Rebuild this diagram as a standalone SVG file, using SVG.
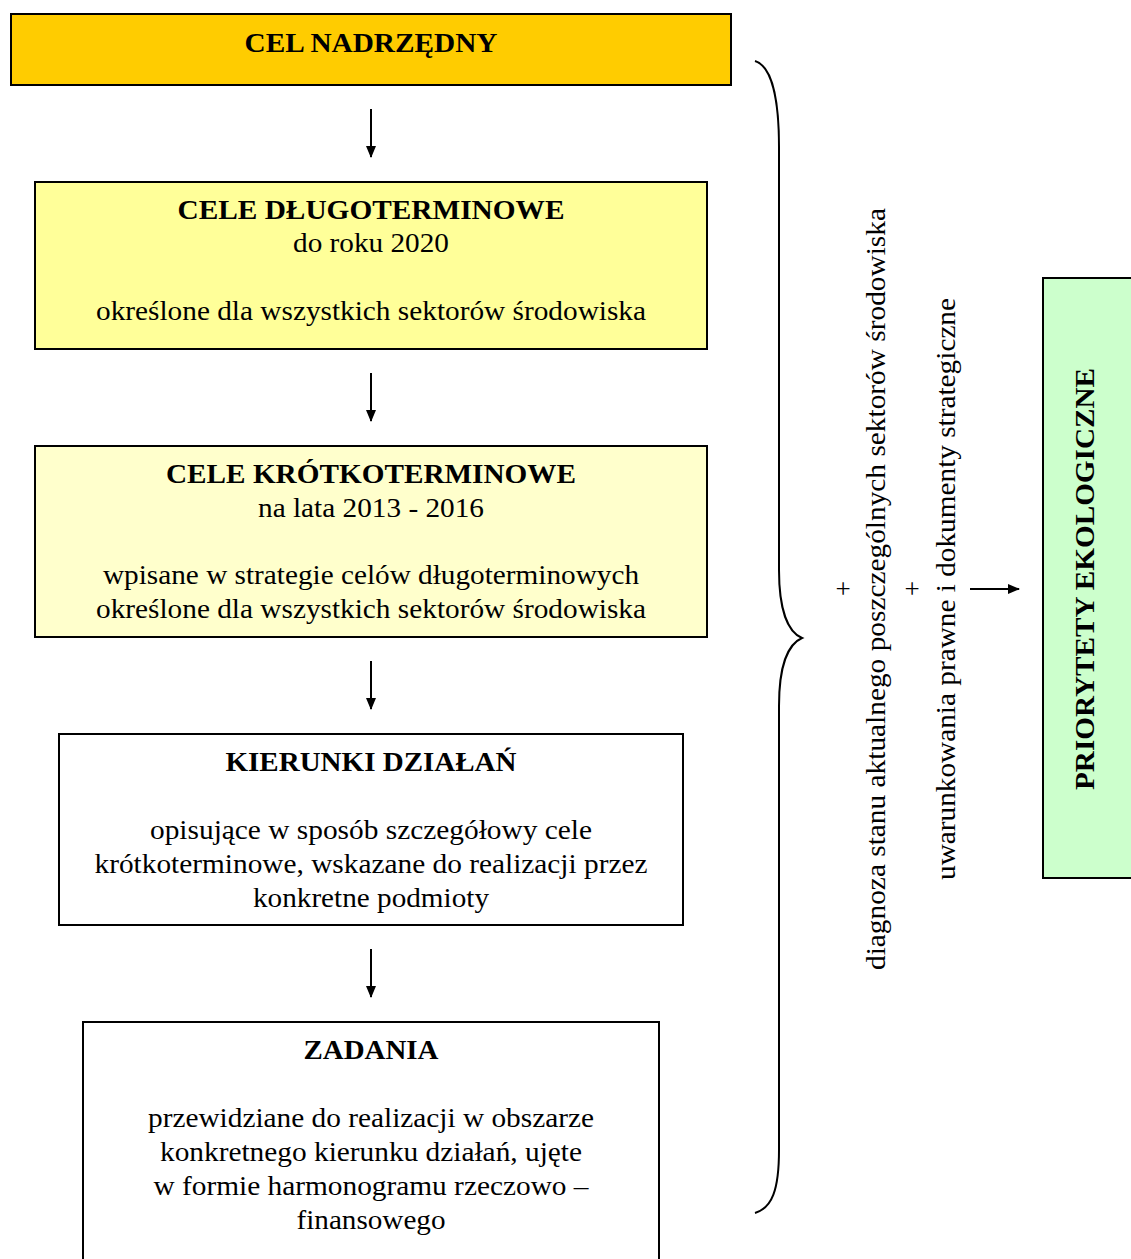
<svg xmlns="http://www.w3.org/2000/svg" width="1131" height="1259" viewBox="0 0 1131 1259">
<style>
.box{stroke:#000;stroke-width:2}
.t{font-size:27px;fill:#000;text-anchor:middle}
.b{font-weight:bold}
.con{stroke:#000;stroke-width:2;fill:none}
</style>
<defs>
<marker id="ah" markerWidth="12" markerHeight="12" refX="11" refY="5" orient="auto" markerUnits="userSpaceOnUse">
<path d="M0,0 L12,5 L0,10 Z" fill="#000"/>
</marker>
</defs>
<rect width="1131" height="1259" fill="#fff"/>
<g font-family="'Liberation Serif', 'Times New Roman', 'DejaVu Serif', serif">
<g id="cel-nadrzedny">
<rect class="box" x="11" y="14" width="720" height="71" fill="#FFCC00"/>
<text class="t b" x="371" y="52" textLength="253" lengthAdjust="spacingAndGlyphs">CEL NADRZĘDNY</text>
</g>
<g id="cele-dlugoterminowe">
<rect class="box" x="35" y="182" width="672" height="167" fill="#FFFF99"/>
<text class="t b" x="371" y="219" textLength="387" lengthAdjust="spacingAndGlyphs">CELE DŁUGOTERMINOWE</text>
<text class="t" x="371" y="252" textLength="156" lengthAdjust="spacingAndGlyphs">do roku 2020</text>
<text class="t" x="371" y="320" textLength="550" lengthAdjust="spacingAndGlyphs">określone dla wszystkich sektorów środowiska</text>
</g>
<g id="cele-krotkoterminowe">
<rect class="box" x="35" y="446" width="672" height="191" fill="#FFFFCC"/>
<text class="t b" x="371" y="483" textLength="410" lengthAdjust="spacingAndGlyphs">CELE KRÓTKOTERMINOWE</text>
<text class="t" x="371" y="517" textLength="226" lengthAdjust="spacingAndGlyphs">na lata 2013 - 2016</text>
<text class="t" x="371" y="584" textLength="536" lengthAdjust="spacingAndGlyphs">wpisane w strategie celów długoterminowych</text>
<text class="t" x="371" y="618" textLength="550" lengthAdjust="spacingAndGlyphs">określone dla wszystkich sektorów środowiska</text>
</g>
<g id="kierunki-dzialan">
<rect class="box" x="59" y="734" width="624" height="191" fill="#fff"/>
<text class="t b" x="371" y="771" textLength="291" lengthAdjust="spacingAndGlyphs">KIERUNKI DZIAŁAŃ</text>
<text class="t" x="371" y="839" textLength="442" lengthAdjust="spacingAndGlyphs">opisujące w sposób szczegółowy cele</text>
<text class="t" x="371" y="873" textLength="553" lengthAdjust="spacingAndGlyphs">krótkoterminowe, wskazane do realizacji przez</text>
<text class="t" x="371" y="907" textLength="236" lengthAdjust="spacingAndGlyphs">konkretne podmioty</text>
</g>
<g id="zadania">
<rect class="box" x="83" y="1022" width="576" height="260" fill="#fff"/>
<text class="t b" x="371" y="1059" textLength="135" lengthAdjust="spacingAndGlyphs">ZADANIA</text>
<text class="t" x="371" y="1127" textLength="446" lengthAdjust="spacingAndGlyphs">przewidziane do realizacji w obszarze</text>
<text class="t" x="371" y="1161" textLength="422" lengthAdjust="spacingAndGlyphs">konkretnego kierunku działań, ujęte</text>
<text class="t" x="371" y="1195" textLength="435" lengthAdjust="spacingAndGlyphs">w formie harmonogramu rzeczowo –</text>
<text class="t" x="371" y="1229" textLength="149" lengthAdjust="spacingAndGlyphs">finansowego</text>
</g>
<g id="uwarunkowania">
<text class="t" x="843" y="598">+</text>
<text class="t" transform="translate(885,589) rotate(-90)" x="0" y="0" textLength="762" lengthAdjust="spacingAndGlyphs">diagnoza stanu aktualnego poszczególnych sektorów środowiska</text>
<text class="t" x="912" y="598">+</text>
<text class="t" transform="translate(955,589) rotate(-90)" x="0" y="0" textLength="582" lengthAdjust="spacingAndGlyphs">uwarunkowania prawne i dokumenty strategiczne</text>
</g>
<g id="priorytety">
<rect class="box" x="1043" y="278" width="100" height="600" fill="#CCFFCC"/>
<text class="t b" transform="translate(1094,579) rotate(-90)" x="0" y="0" textLength="422" lengthAdjust="spacingAndGlyphs">PRIORYTETY EKOLOGICZNE</text>
</g>
</g>
<g id="connectors">
<line class="con" x1="371" y1="109" x2="371" y2="157" marker-end="url(#ah)"/>
<line class="con" x1="371" y1="373" x2="371" y2="421" marker-end="url(#ah)"/>
<line class="con" x1="371" y1="661" x2="371" y2="709" marker-end="url(#ah)"/>
<line class="con" x1="371" y1="949" x2="371" y2="997" marker-end="url(#ah)"/>
<line class="con" x1="970" y1="589" x2="1019" y2="589" marker-end="url(#ah)"/>
<path class="con" d="M755,61 C772,66 779,100 779,147 L779,570 C779,610 788,632 802,638 C788,644 779,666 779,706 L779,1150 C779,1190 772,1208 755,1213"/>
</g>
</svg>
